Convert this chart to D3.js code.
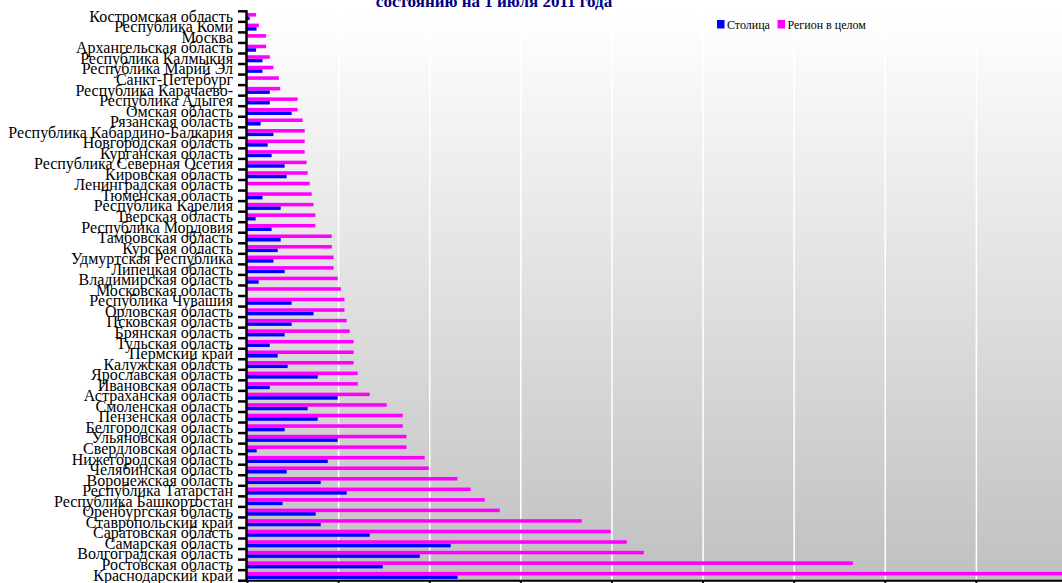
<!DOCTYPE html>
<html>
<head>
<meta charset="utf-8">
<script src="https://cdn.jsdelivr.net/npm/d3@7"></script>
<style>
  body { margin: 0; background: #fff; }
  svg { display: block; font-family: 'Liberation Serif', 'Times New Roman', serif; }
</style>
</head>
<body>
<div id="chart"></div>
<script>
// categories top to bottom, as they appear
const regions = [
  'Костромская область', 'Республика Коми', 'Москва', 'Архангельская область',
  'Республика Калмыкия', 'Республика Марий Эл', 'Санкт-Петербург', 'Республика Карачаево-',
  'Республика Адыгея', 'Омская область', 'Рязанская область', 'Республика Кабардино-Балкария',
  'Новгородская область', 'Курганская область', 'Республика Северная Осетия', 'Кировская область',
  'Ленинградская область', 'Тюменская область', 'Республика Карелия', 'Тверская область',
  'Республика Мордовия', 'Тамбовская область', 'Курская область', 'Удмуртская Республика',
  'Липецкая область', 'Владимирская область', 'Московская область', 'Республика Чувашия',
  'Орловская область', 'Псковская область', 'Брянская область', 'Тульская область',
  'Пермский край', 'Калужская область', 'Ярославская область', 'Ивановская область',
  'Астраханская область', 'Смоленская область', 'Пензенская область', 'Белгородская область',
  'Ульяновская область', 'Свердловская область', 'Нижегородская область', 'Челябинская область',
  'Воронежская область', 'Республика Татарстан', 'Республика Башкортостан', 'Оренбургская область',
  'Ставропольский край', 'Саратовская область', 'Самарская область', 'Волгоградская область',
  'Ростовская область', 'Краснодарский край',
]

const capital = [
  0.3, 1.05, 0, 1.0, 1.7, 1.7, 0, 2.5, 2.5, 4.9, 1.5, 2.9, 2.27, 2.7, 4.13, 4.35,
  0, 1.7, 3.7, 0.95, 2.7, 3.7, 3.37, 2.9, 4.13, 1.28, 0, 4.9, 7.3, 4.9, 4.13, 2.5,
  3.37, 4.46, 7.76, 2.5, 9.95, 6.66, 7.76, 4.13, 9.95, 1.06, 8.86, 4.35, 8.09, 10.94,
  3.9, 7.54, 8.09, 13.47, 22.36, 18.96, 14.9, 23.1,
]

const wholeRegion = [
  1.0, 1.3, 2.1, 2.1, 2.5, 2.9, 3.5, 3.65, 5.55, 5.55, 6.1, 6.33, 6.33, 6.33, 6.55, 6.66,
  6.88, 7.1, 7.3, 7.5, 7.5, 9.3, 9.3, 9.5, 9.5, 9.95, 10.3, 10.7, 10.7, 10.94, 11.27, 11.7,
  11.7, 11.7, 12.15, 12.15, 13.47, 15.33, 17.1, 17.1, 17.5, 17.5, 19.5, 19.94, 23.1, 24.55,
  26.1, 27.74, 36.74, 39.92, 41.68, 43.55, 66.5, 95,
]

const seriesNames = ['Столица', 'Регион в целом']
const gridTicks = [0, 10, 20, 30, 40, 50, 60, 70, 80, 90]
const titleText = 'состоянию на 1 июля 2011 года'

const canvasWidth = 1062
const canvasHeight = 583
const plot = {left: 247, top: 11.3, bottom: 580.7, right: 1067}
const colors = {'Столица': '#0000ff', 'Регион в целом': '#ff00ff'}

const data = regions.map((name, i) => ({
  name,
  values: {'Столица': capital[i], 'Регион в целом': wholeRegion[i]},
}))

const xScale = d3.scaleLinear().domain([0, 90]).range([plot.left, plot.right])

const yScale = d3
  .scaleBand()
  .domain(regions)
  .range([plot.top, plot.bottom])
  .paddingInner(0.33)
  .paddingOuter(0.165)

// region bar on top, capital below
const subScale = d3
  .scaleBand()
  .domain(['Регион в целом', 'Столица'])
  .range([0, yScale.bandwidth()])

const svg = d3
  .select('#chart')
  .append('svg')
  .attr('width', canvasWidth)
  .attr('height', canvasHeight)

const defs = svg.append('defs')
const grad = defs
  .append('linearGradient')
  .attr('id', 'bg')
  .attr('x1', 0).attr('y1', 0)
  .attr('x2', 0).attr('y2', 1)
grad.append('stop').attr('offset', '0%').attr('stop-color', '#ffffff')
grad.append('stop').attr('offset', '100%').attr('stop-color', '#c0c0c0')

svg
  .append('rect')
  .attr('x', plot.left)
  .attr('y', plot.top)
  .attr('width', canvasWidth - plot.left)
  .attr('height', plot.bottom - plot.top)
  .attr('fill', 'url(#bg)')

// vertical gridlines
svg
  .append('g')
  .attr('transform', `translate(0, ${plot.bottom})`)
  .call(
    d3.axisBottom(xScale)
      .tickValues(gridTicks.slice(1))
      .tickSize(-(plot.bottom - plot.top))
      .tickFormat(''),
  )
  .call(g => g.select('.domain').remove())
  .call(g => g.selectAll('line').attr('stroke', '#ffffff').attr('stroke-width', 1.5))

const groups = svg
  .selectAll('g.row')
  .data(data)
  .enter()
  .append('g')
  .attr('class', 'row')
  .attr('transform', d => `translate(0, ${yScale(d.name)})`)

groups
  .selectAll('rect')
  .data(d => seriesNames.map(s => ({series: s, value: d.values[s]})))
  .enter()
  .append('rect')
  .attr('x', xScale(0))
  .attr('y', d => subScale(d.series))
  .attr('width', d => xScale(d.value) - xScale(0))
  .attr('height', subScale.bandwidth())
  .attr('fill', d => colors[d.series])

// bottom axis
svg
  .append('g')
  .attr('transform', `translate(0, ${plot.bottom})`)
  .call(d3.axisBottom(xScale).tickValues(gridTicks).tickSize(4).tickFormat(''))
  .call(g => g.select('.domain').attr('stroke-width', 2).attr('d', `M${plot.left},0H${canvasWidth}`))
  .call(g => g.selectAll('line').attr('stroke-width', 2))

// left axis labels
svg
  .append('g')
  .attr('transform', `translate(${plot.left}, 0)`)
  .call(d3.axisLeft(yScale).tickSize(0).tickPadding(14))
  .call(g => g.select('.domain').remove())
  .call(g =>
    g.selectAll('text')
      .attr('font-size', '16px')
      .attr('font-family', "'Liberation Serif', serif")
      .attr('fill', '#000'),
  )

// category boundary ticks and axis line
const step = yScale.step()
const boundaries = d3.range(regions.length + 1).map(i => plot.top + i * step)
svg
  .append('g')
  .selectAll('line')
  .data(boundaries)
  .enter()
  .append('line')
  .attr('x1', plot.left - 9)
  .attr('x2', plot.left)
  .attr('y1', d => d)
  .attr('y2', d => d)
  .attr('stroke', '#000')
  .attr('stroke-width', 2.5)

svg
  .append('line')
  .attr('x1', plot.left - 0.5)
  .attr('x2', plot.left - 0.5)
  .attr('y1', plot.top - 1)
  .attr('y2', plot.bottom + 1)
  .attr('stroke', '#000')
  .attr('stroke-width', 2.5)

// title (upper lines fall outside the picture)
svg
  .append('text')
  .attr('x', 494)
  .attr('y', 7)
  .attr('text-anchor', 'middle')
  .attr('font-size', '17px')
  .attr('font-weight', 'bold')
  .attr('fill', '#000080')
  .text(titleText)

// legend
const legend = svg
  .append('g')
  .attr('transform', 'translate(717, 0)')

const legendItems = [
  {name: 'Столица', x: 0},
  {name: 'Регион в целом', x: 60.5},
]

legendItems.forEach(item => {
  legend
    .append('rect')
    .attr('x', item.x)
    .attr('y', 20)
    .attr('width', 7.5)
    .attr('height', 8.5)
    .attr('fill', colors[item.name])
  legend
    .append('text')
    .attr('x', item.x + 10)
    .attr('y', 28.5)
    .attr('font-size', '12px')
    .attr('fill', '#000')
    .text(item.name)
})
</script>
</body>
</html>
